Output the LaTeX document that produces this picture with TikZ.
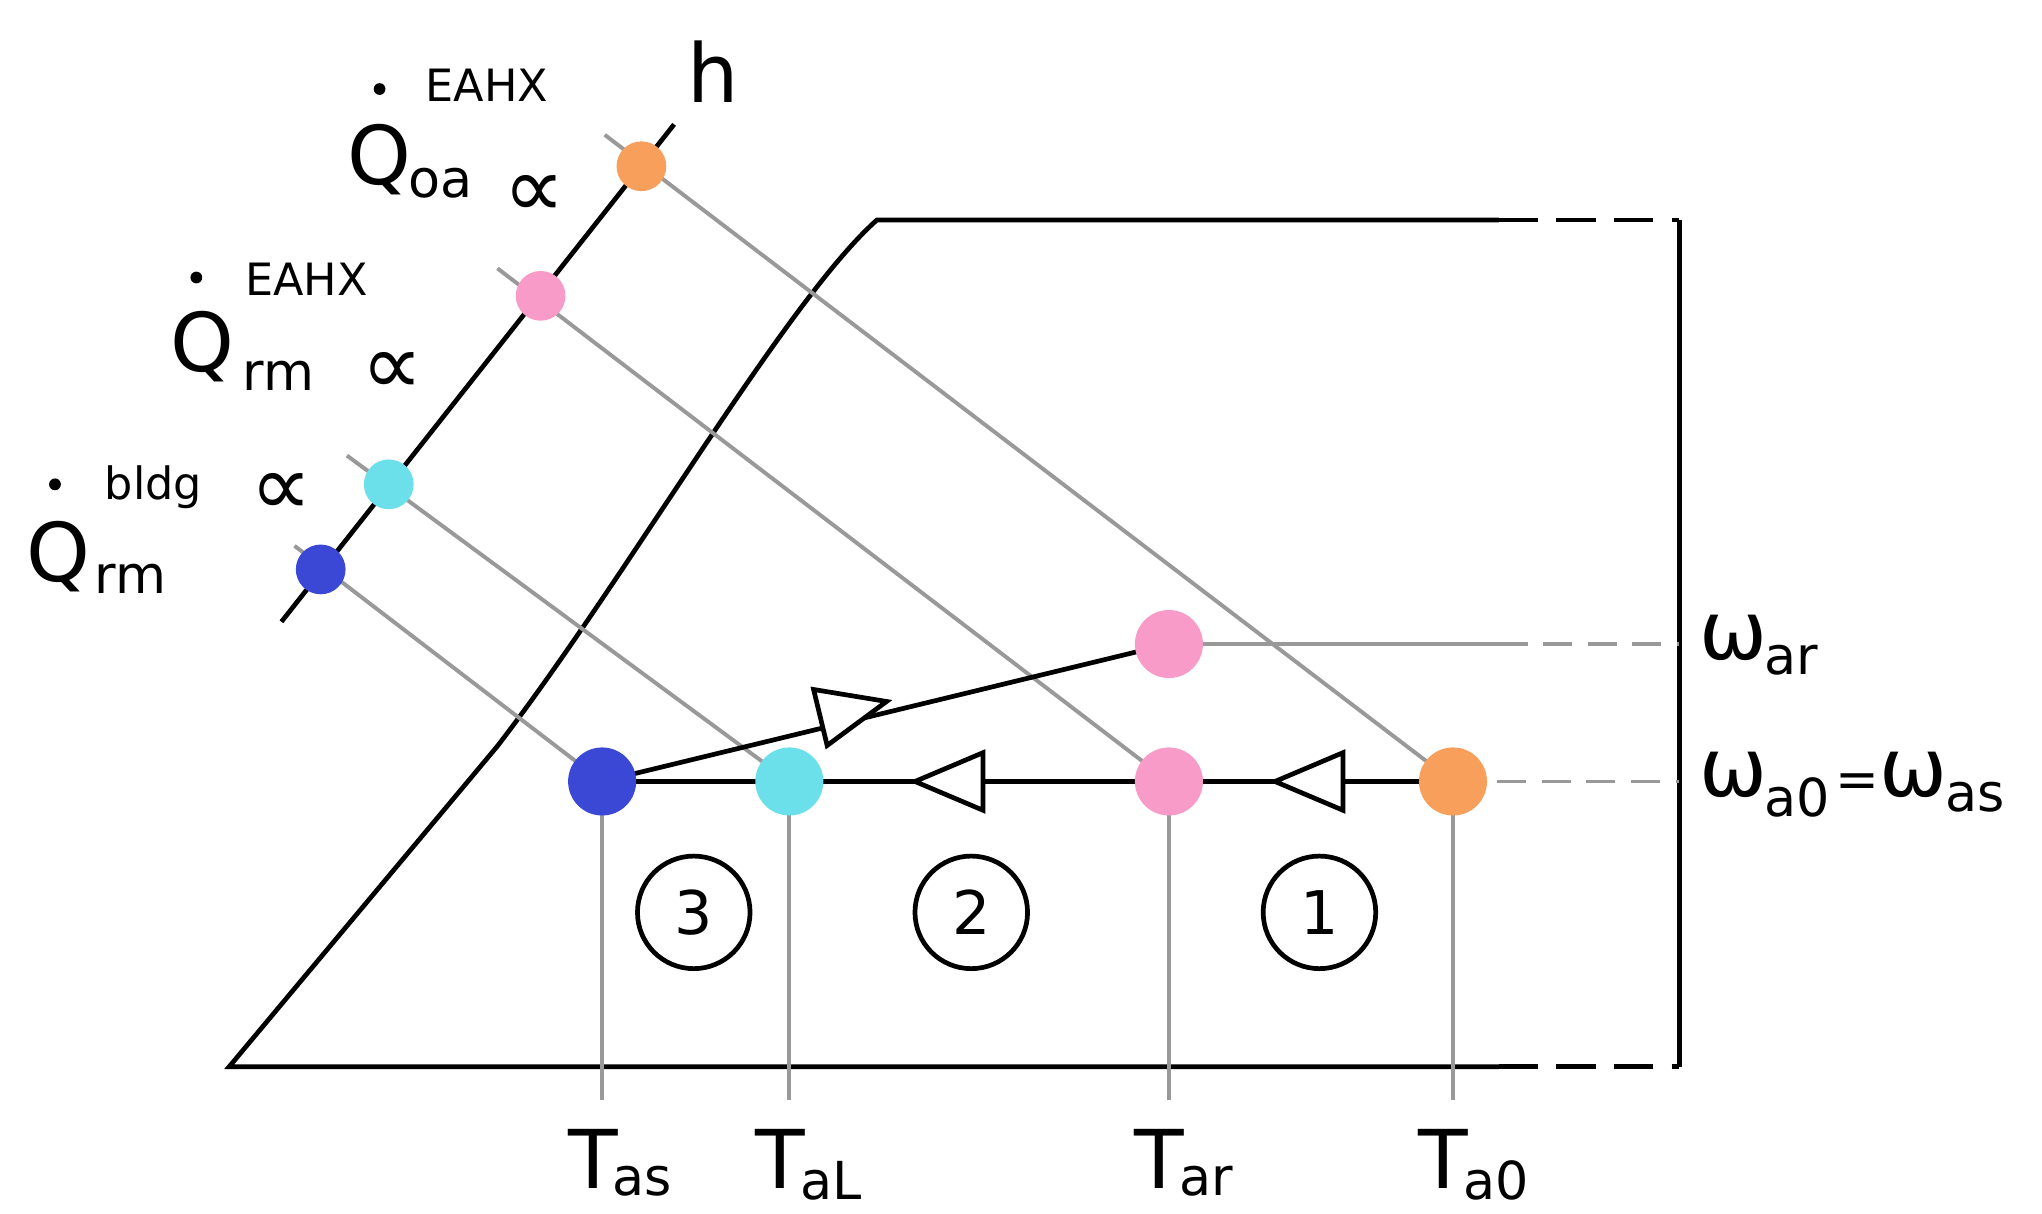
\documentclass[tikz,border=0pt]{standalone}
\usepackage{fontspec}
\setmainfont{DejaVu Sans}
\begin{document}
\begin{tikzpicture}[x=1pt,y=-1pt,
  blk/.style={line width=3.6pt,black},
  gr/.style={line width=3pt,color=gray!80},
  grd/.style={gr,dash pattern=on 22pt off 12pt},
  dot/.style={circle,inner sep=0pt,minimum size=#1},
  big/.style={font=\fontsize{62}{62}\selectfont,inner sep=0pt},
  sub/.style={font=\fontsize{40}{40}\selectfont,inner sep=0pt},
  sup/.style={font=\fontsize{34}{34}\selectfont,inner sep=0pt},
  prop/.style={font=\fontsize{66}{66}\selectfont,inner sep=0pt},
  circnum/.style={circle,draw,line width=3.6pt,minimum size=86pt,inner sep=0pt,font=\fontsize{46}{46}\selectfont}]
\definecolor{cor}{HTML}{F79F5B}
\definecolor{cpk}{HTML}{F99BC8}
\definecolor{ccy}{HTML}{6BE0EA}
\definecolor{cbl}{HTML}{3B48D6}
\useasboundingbox (0,0) rectangle (1560,927);
% chart outline
\draw[blk] (1145,815) -- (175,815) -- (380,570) .. controls (480,440) and (600,230) .. (670,168) -- (1145,168);
\draw[blk,dash pattern=on 30pt off 14pt] (1145,168) -- (1283,168);
\draw[blk,dash pattern=on 30pt off 14pt] (1145,815) -- (1283,815);
\draw[blk] (1283,168) -- (1283,815);
% h axis
\coordinate (h0) at (215,475); \coordinate (h1) at (515,95);
\draw[blk] (h0) -- (h1);
\node[big] (hl) at (545,55) {h};
% state points
\coordinate (pbl) at (460,597); \coordinate (pcy) at (603,597);
\coordinate (ppk) at (893,597); \coordinate (por) at (1110,597);
\coordinate (ppt) at (893,492);
\coordinate (abl) at (245,435); \coordinate (acy) at (297,370);
\coordinate (apk) at (413,226); \coordinate (aor) at (490,127);
% gray lines
\draw[gr] (225,417) -- (pbl);
\draw[gr] (265,348) -- (pcy);
\draw[gr] (380,205) -- (ppk);
\draw[gr] (462,103) -- (por);
\foreach \p in {pbl,pcy,ppk,por} \draw[gr] (\p) -- (\p |- 0,840);
\draw[gr] (ppt) -- (1145,492); \draw[grd] (1145,492) -- (1283,492);
\draw[grd] (por) -- (1283,597);
% process lines
\draw[blk] (por) -- (pbl) -- (ppt);
\foreach \x/\y/\a in {1000/597/0, 725/597/0, 652/542/193.6}
  \draw[blk,fill=white,shift={(\x,\y)},rotate=\a] (-26,0) -- (26,-22) -- (26,22) -- cycle;
% dots
\node[dot=52pt,fill=cbl] (nbl) at (pbl) {};
\node[dot=52pt,fill=ccy] (ncy) at (pcy) {};
\node[dot=52pt,fill=cpk] (npk) at (ppk) {};
\node[dot=52pt,fill=cor] (nor) at (por) {};
\node[dot=52pt,fill=cpk] (npt) at (ppt) {};
\node[dot=38pt,fill=cbl] (mbl) at (abl) {};
\node[dot=38pt,fill=ccy] (mcy) at (acy) {};
\node[dot=38pt,fill=cpk] (mpk) at (apk) {};
\node[dot=38pt,fill=cor] (mor) at (aor) {};
% circled numbers
\node[circnum] (c3) at (530,697) {3};
\node[circnum] (c2) at (742,697) {2};
\node[circnum] (c1) at (1008,697) {1};
% T labels
\foreach \p/\s in {pbl/as,pcy/aL,ppk/ar,por/a0}{
  \node[big,anchor=east] at ([xshift=12pt]\p |- 0,885) {T};
  \node[sub,anchor=west] at ([xshift=8pt]\p |- 0,902) {\s};}
% omega labels
\node[big,anchor=west] (wr) at (1298,487) {ω};
\node[sub,anchor=west] at (1348,504) {ar};
\node[big,anchor=west] (w0) at (1298,592) {ω};
\node[sub,anchor=west] at (1348,609) {a0};
\node[sub,anchor=west] at (1402,600) {=};
\node[big,anchor=west] at (1436,592) {ω};
\node[sub,anchor=west] at (1486,609) {as};
% Q labels
\node[big] at (290,122) {Q};
\node[sub,anchor=west] at (312,140) {oa};
\node[dot=9pt,fill=black] at (290,68) {};
\node[sup,anchor=west] at (325,65) {EAHX};
\node[prop] at (408,150) {∝};
\node[big] at (155,265) {Q};
\node[sub,anchor=west] at (185,287) {rm};
\node[dot=9pt,fill=black] at (150,212) {};
\node[sup,anchor=west] at (187,213) {EAHX};
\node[prop] at (300,285) {∝};
\node[big] at (45,425) {Q};
\node[sub,anchor=west] at (72,442) {rm};
\node[dot=9pt,fill=black] at (42,370) {};
\node[sup,anchor=west] at (80,372) {bldg};
\node[prop] at (215,378) {∝};
\end{tikzpicture}
\end{document}
